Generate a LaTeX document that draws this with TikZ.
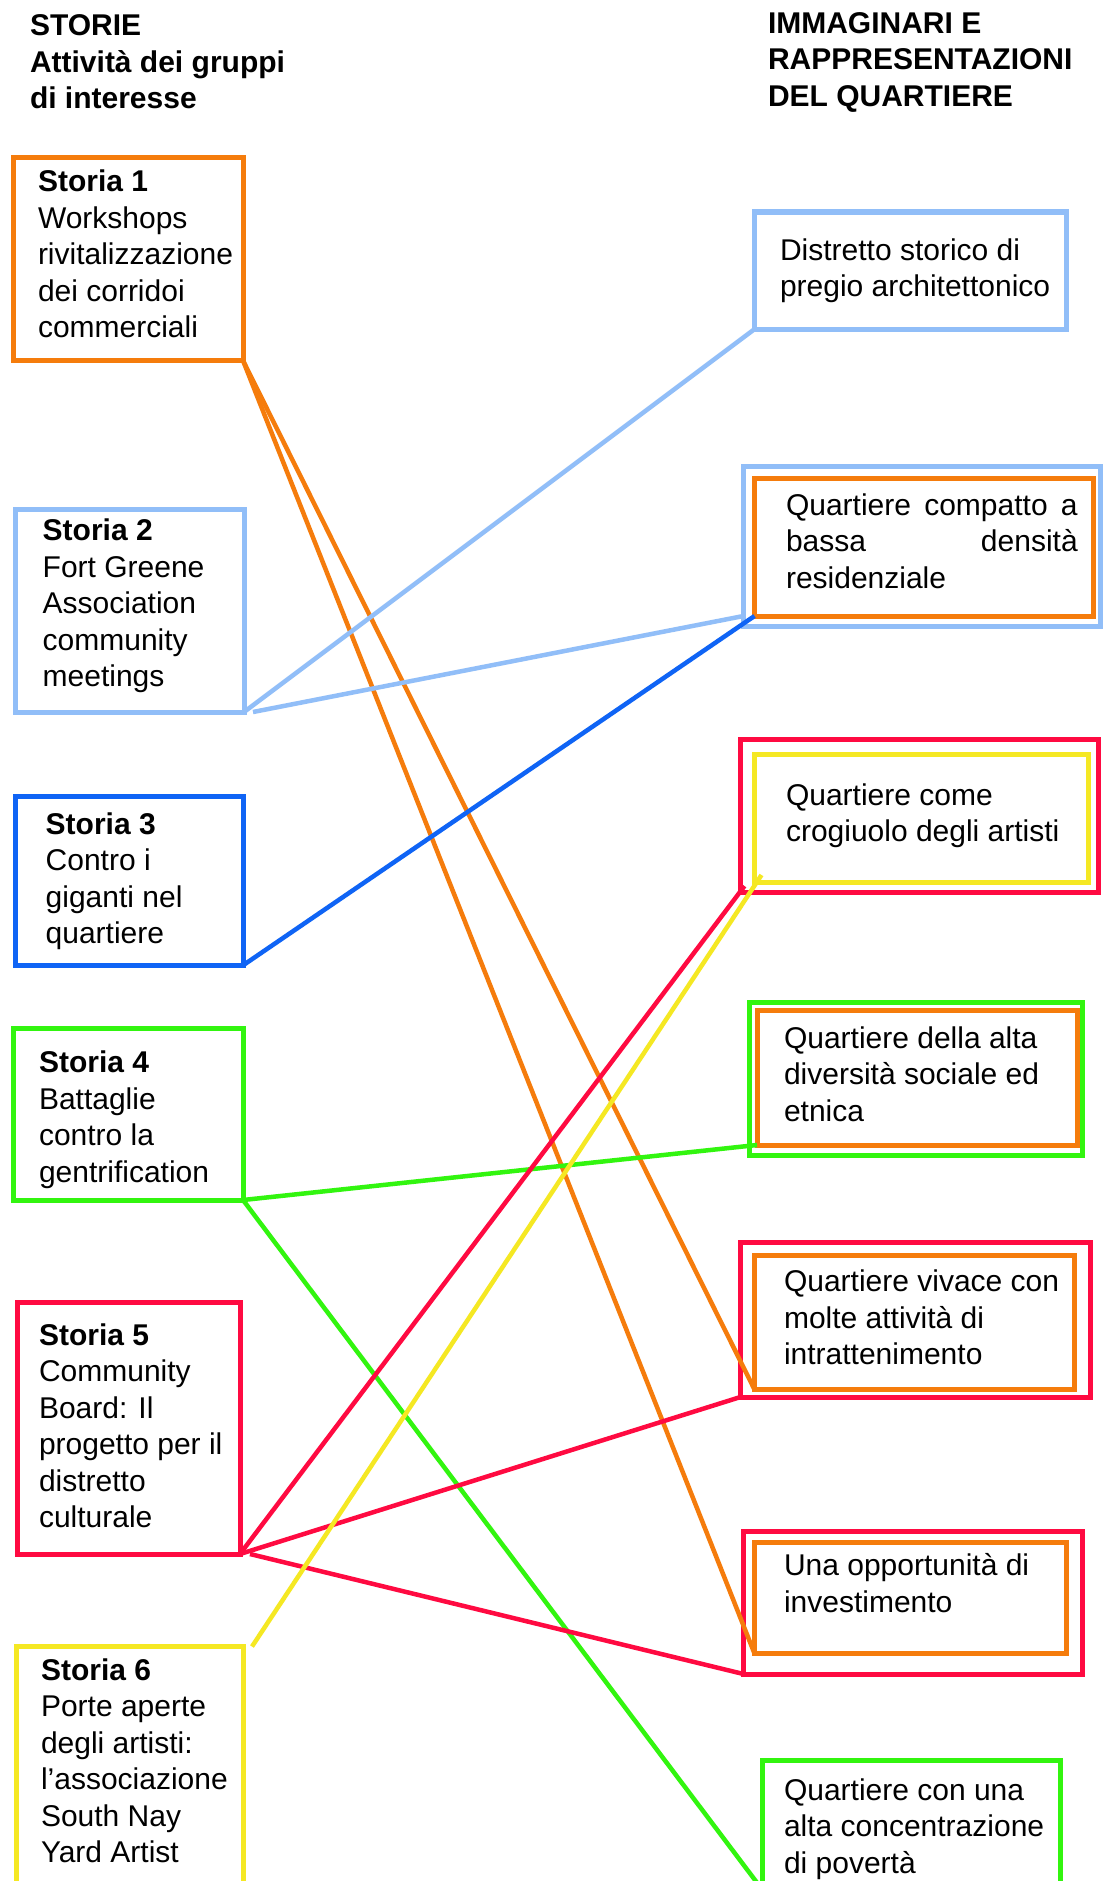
\documentclass[tikz,border=0pt]{standalone}
\usepackage{fontspec}
\setmainfont{Liberation Sans}
\definecolor{cOr}{RGB}{245,124,12}
\definecolor{cLb}{RGB}{145,190,248}
\definecolor{cBl}{RGB}{15,100,245}
\definecolor{cGr}{RGB}{50,245,15}
\definecolor{cRd}{RGB}{255,10,65}
\definecolor{cYe}{RGB}{245,232,35}
\newcommand\mylines[1]{\begin{tabular}[t]{@{}l@{}}#1\end{tabular}}
\tikzset{
  box/.style={draw=#1, line width=5pt, inner sep=0pt, outer sep=0pt, rectangle},
  link/.style={draw=#1, line width=4.5pt},
  txt/.style={anchor=base west, inner sep=0pt, outer sep=0pt, font=\fontsize{30}{36.5}\selectfont},
}
\begin{document}
\begin{tikzpicture}[x=1pt,y=-1pt]
\useasboundingbox (0,0) rectangle (1103,1881);
\clip (0,0) rectangle (1103,1881);
\fill[white] (0,0) rectangle (1103,1881);

% titles
\node[txt] (tl) at (30,36) {\mylines{\bfseries STORIE\\ \bfseries Attività dei gruppi\\ \bfseries di interesse}};
\node[txt] (tr) at (768,33.5) {\mylines{\bfseries IMMAGINARI E\\ \bfseries RAPPRESENTAZIONI\\ \bfseries DEL QUARTIERE}};

% left boxes
\node[box=cOr, minimum width=230pt, minimum height=203pt] (s1) at (128,259) {};
\node[box=cLb, minimum width=228.5pt, minimum height=203pt] (s2) at (129.75,610.5) {};
\node[box=cBl, minimum width=228.5pt, minimum height=169pt] (s3) at (129.25,880.5) {};
\node[box=cGr, minimum width=230pt, minimum height=171.5pt] (s4) at (128,1114.25) {};
\node[box=cRd, minimum width=222.5pt, minimum height=251.5pt] (s5) at (128.75,1428.25) {};
\node[box=cYe, minimum width=227.5pt, minimum height=263.5pt] (s6) at (129.75,1778.25) {};

\node[txt] (t1) at (38,192) {\mylines{\bfseries Storia 1\\ Workshops\\ rivitalizzazione\\ dei corridoi\\ commerciali}};
\node[txt] (t2) at (42.7,540.5) {\mylines{\bfseries Storia 2\\ Fort Greene\\ Association\\ community\\ meetings}};
\node[txt] (t3) at (45.7,834) {\mylines{\bfseries Storia 3\\ Contro i\\ giganti nel\\ quartiere}};
\node[txt] (t4) at (39,1072.7) {\mylines{\bfseries Storia 4\\ Battaglie\\ contro la\\ gentrification}};
\node[txt] (t5) at (39,1345) {\mylines{\bfseries Storia 5\\ Community\\ Board: Il\\ progetto per il\\ distretto\\ culturale}};
\node[txt] (t6) at (41,1680) {\mylines{\bfseries Storia 6\\ Porte aperte\\ degli artisti:\\ l’associazione\\ South Nay\\ Yard Artist}};

% right boxes
\node[box=cLb, minimum width=312.5pt, minimum height=117.5pt] (r1) at (910.25,270.75) {};
\node[box=cLb, minimum width=357pt, minimum height=160pt] (r2o) at (922,546) {};
\node[box=cOr, minimum width=338.5pt, minimum height=137.3pt] (r2i) at (923.75,547.35) {};
\node[box=cRd, minimum width=358pt, minimum height=153pt] (r3o) at (919.5,815.5) {};
\node[box=cYe, minimum width=333.5pt, minimum height=127.5pt] (r3i) at (921.25,818.25) {};
\node[box=cGr, minimum width=333.5pt, minimum height=153pt] (r4o) at (915.75,1079) {};
\node[box=cOr, minimum width=320pt, minimum height=134.5pt] (r4i) at (917,1077.75) {};
\node[box=cRd, minimum width=350pt, minimum height=155pt] (r5o) at (915.5,1319.5) {};
\node[box=cOr, minimum width=320pt, minimum height=134.5pt] (r5i) at (914.5,1322.25) {};
\node[box=cRd, minimum width=339pt, minimum height=143pt] (r6o) at (913,1602.5) {};
\node[box=cOr, minimum width=311.5pt, minimum height=111.5pt] (r6i) at (910.25,1597.75) {};
\node[box=cGr, minimum width=298pt, minimum height=129.5pt] (r7) at (911.5,1825.25) {};

\node[txt] (u1) at (780,260) {\mylines{Distretto storico di\\ pregio architettonico}};
\node[txt] (u2) at (786,515) {\mylines{\hbox to 291.7pt{Quartiere\hfill compatto\hfill a}\\ \hbox to 291.7pt{bassa\hfill densità}\\ residenziale}};
\node[txt] (u3) at (786,805) {\mylines{Quartiere come\\ crogiuolo degli artisti}};
\node[txt] (u4) at (784,1048) {\mylines{Quartiere della alta\\ diversità sociale ed\\ etnica}};
\node[txt] (u5) at (784,1291.7) {\mylines{Quartiere vivace con\\ molte attività di\\ intrattenimento}};
\node[txt] (u6) at (784,1575.7) {\mylines{Una opportunità di\\ investimento}};
\node[txt] (u7) at (784,1800) {\mylines{Quartiere con una\\ alta concentrazione\\ di povertà}};

% connectors
\coordinate (s2b) at ([xshift=9pt]s2.south east);
\coordinate (r2e) at ([yshift=10pt]r2o.south west);
\coordinate (s5b) at ([xshift=10pt]s5.south east);
\coordinate (s6b) at ([xshift=8.5pt]s6.north east);
\coordinate (r3e) at ([xshift=4pt,yshift=6pt]r3o.south west);
\coordinate (r3y) at ([xshift=7pt,yshift=7pt]r3i.south west);

\draw[link=cOr] (s1.south east) -- (r5i.south west);
\draw[link=cOr] (s1.south east) -- (r6i.south west);
\draw[link=cLb] (s2.south east) -- (r1.south west);
\draw[link=cLb] (s2b) -- (r2e);
\draw[link=cBl] (s3.south east) -- (r2i.south west);
\draw[link=cGr] (s4.south east) -- (r4i.south west);
\draw[link=cGr] (s4.south east) -- (r7.south west);
\draw[link=cRd] (s5.south east) -- (r3e);
\draw[link=cRd] (s5.south east) -- (r5o.south west);
\draw[link=cRd] (s5b) -- (r6o.south west);
\draw[link=cYe] (s6b) -- (r3y);
\end{tikzpicture}
\end{document}
